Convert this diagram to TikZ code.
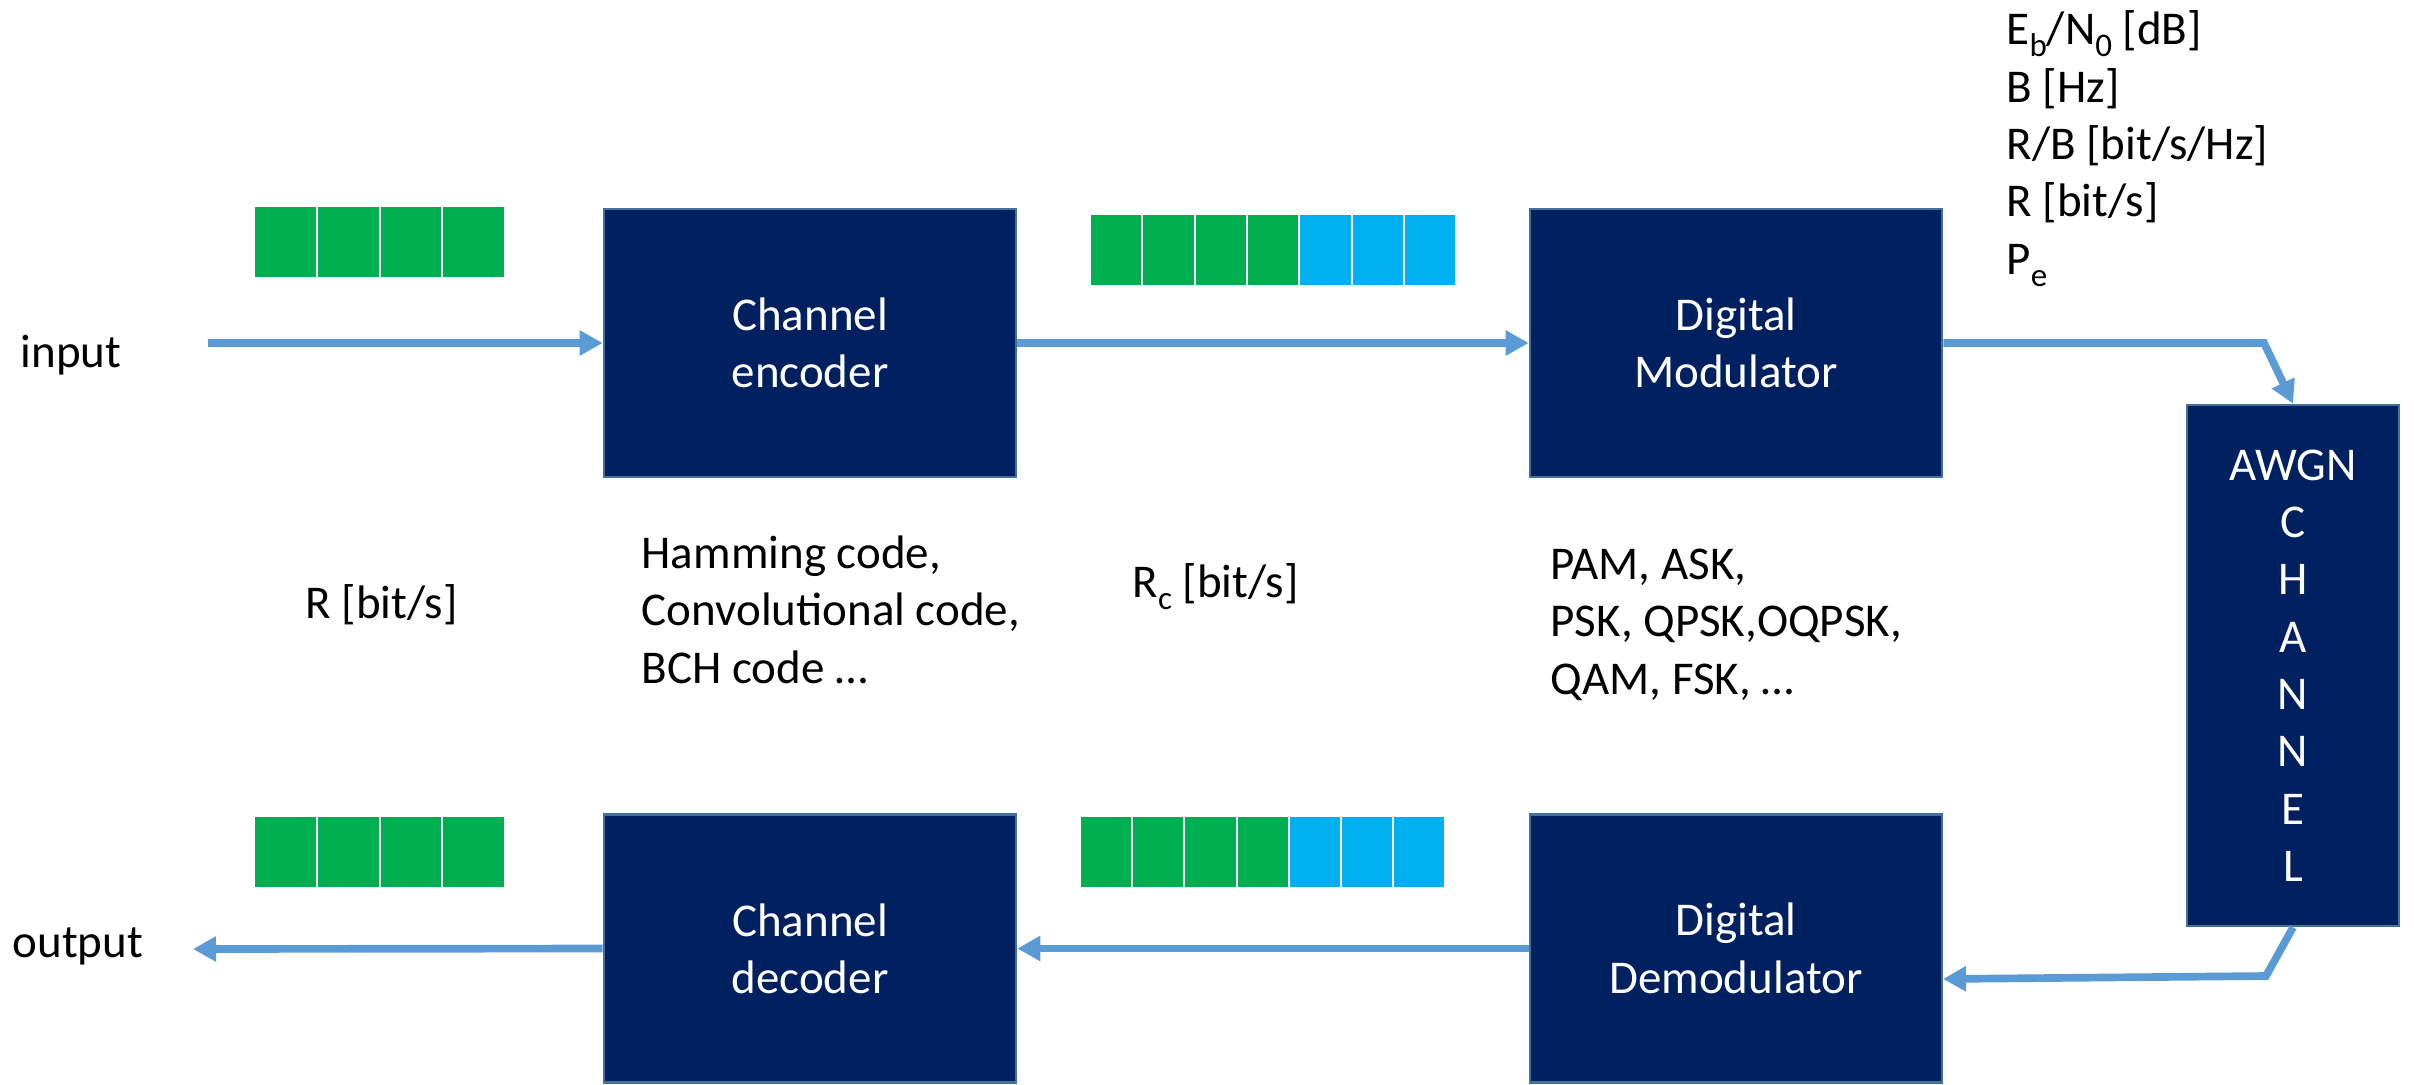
\documentclass[tikz,border=0pt]{standalone}
\usepackage{fontspec}
\setmainfont{Carlito}
\usetikzlibrary{arrows.meta}

\definecolor{boxnavy}{HTML}{002060}
\definecolor{boxedge}{HTML}{41719C}
\definecolor{flow}{HTML}{5B9BD5}
\definecolor{databit}{HTML}{00B050}
\definecolor{paritybit}{HTML}{00B0F0}

% subscript set a little lower than \textsubscript does
\newcommand\lowsub[1]{\raisebox{-0.26em}{\fontsize{9.9pt}{9.9pt}\selectfont #1}}

\begin{document}
\begin{tikzpicture}[x=0.3pt,y=-0.3pt,
  txt/.style={font=\fontsize{14.1pt}{17.2pt}\selectfont},
  block/.style={txt, draw=boxedge, line width=0.8pt, fill=boxnavy, text=white,
    minimum width=123.6pt, minimum height=80.4pt, align=center, inner sep=0pt},
  flowline/.style={draw=flow, line width=2.3pt, line join=miter,
    -{Triangle[length=6.9pt,width=7.2pt]}},
  % a multi-line note is placed by the baseline of its last line
  note/.style={txt, anchor=base west, inner sep=0pt, align=left},
  bitcell/.style={draw=white, line width=0.6pt}]

\useasboundingbox (0,0) rectangle (2414,1084);

% processing blocks
\node[block] (enc)   at (810,343)    {Channel\\encoder};
\node[block] (mod)   at (1736,343)   {Digital\\Modulator};
\node[block] (dec)   at (810,948.5)  {Channel\\decoder};
\node[block] (demod) at (1736,948.5) {Digital\\Demodulator};
\node[block, minimum width=63.6pt, minimum height=156.3pt] (awgn) at (2293,665.5)
  {AWGN\\C\\H\\A\\N\\N\\E\\L};

% bit strings: information bits and parity bits
\foreach \i in {0,...,3} {
  \filldraw[bitcell, fill=databit] (254+\i*62.75,206) rectangle ++(62.75,72);
  \filldraw[bitcell, fill=databit] (254+\i*62.75,816) rectangle ++(62.75,72);
}
\foreach \i in {0,...,6} {
  \ifnum\i<4 \def\bitcol{databit}\else \def\bitcol{paritybit}\fi
  \filldraw[bitcell, fill=\bitcol] (1090+\i*52.3,214) rectangle ++(52.3,72);
  \filldraw[bitcell, fill=\bitcol] (1080+\i*52.2,816) rectangle ++(52.2,72);
}

% labels
\node[note] (inlabel)  at (20,367)  {input};
\node[note] (outlabel) at (12,957)  {output};
\node[note] (rate)     at (305,618) {R [bit/s]};
\node[note] (codes)    at (641,683) {Hamming code,\\Convolutional code,\\BCH code …};
\node[note] (crate)    at (1132,597) {R\lowsub{c} [bit/s]};
\node[note] (mods)     at (1550,694) {PAM, ASK,\\PSK, QPSK,OQPSK,\\QAM, FSK, …};
\node[note] (params)   at (2006,274)
  {E\lowsub{b}/N\lowsub{0} [dB]\\B [Hz]\\R/B [bit/s/Hz]\\R [bit/s]\\P\lowsub{e}};

% signal path
\coordinate (src)   at (208,343);
\coordinate (sink)  at (193,949);
\coordinate (txbend) at (2264,343);
\coordinate (rxbend) at (2266,976);
\coordinate (rxin)  at (1943,979);

\draw[flowline] (src) -- (enc.west);
\draw[flowline] (enc.east) -- (mod.west);
\draw[flowline] (mod.east) -- (txbend) -- (awgn.north);
\draw[flowline] (awgn.south) -- (rxbend) -- (rxin);
\draw[flowline] (demod.west) -- (dec.east);
\draw[flowline] (dec.west) -- (sink);
\end{tikzpicture}
\end{document}
